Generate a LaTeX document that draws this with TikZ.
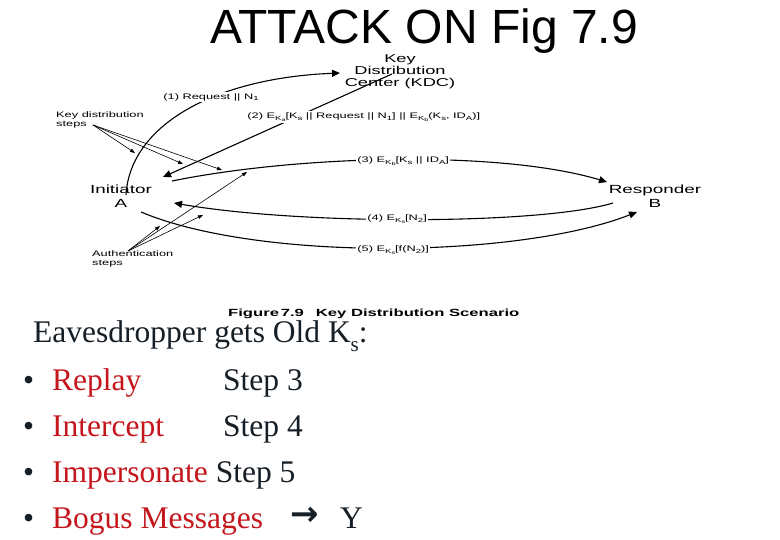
\documentclass[tikz,border=0pt]{standalone}
\usepackage{fontspec}
\usepackage{graphicx}
\usetikzlibrary{arrows.meta}
\setmainfont{Liberation Serif}
\newfontfamily\figfont[FakeStretch=1.6]{Liberation Sans}
\newfontfamily\titlefont{Liberation Sans}
\newfontfamily\symfont{DejaVu Sans}
\newcommand\lsub[1]{\raisebox{-0.4ex}{\scalebox{0.75}{#1}}}
\definecolor{bred}{RGB}{196,22,28}
\definecolor{dtext}{RGB}{22,30,38}
\begin{document}
\begin{tikzpicture}[x=1pt,y=-1pt,
  lbl/.style={font=\figfont\fontsize{8}{9}\selectfont, inner sep=1.2pt, fill=white, anchor=west},
  ent/.style={font=\figfont\fontsize{11.8}{14}\selectfont, align=center, inner sep=0pt},
  note/.style={font=\figfont\fontsize{8}{8.5}\selectfont, align=left, inner sep=0pt, anchor=north west},
  main/.style={line width=1.1pt, -{Triangle[length=8pt,width=7pt]}},
  ptr/.style={line width=0.6pt, -{Triangle[length=5pt,width=3.6pt]}},
  big/.style={font=\fontsize{31.5}{36}\selectfont, anchor=base west, inner sep=0pt, text=dtext},
  bul/.style={font=\fontsize{31.5}{36}\selectfont, anchor=base west, inner sep=0pt, text=dtext}
]
\useasboundingbox[fill=white] (0,0) rectangle (780,540);

% title
\node[font=\titlefont\fontsize{48}{52}\selectfont, anchor=base, inner sep=0pt] (title) at (424,44) {ATTACK ON Fig 7.9};

% entities
\node[ent, font=\figfont\fontsize{11.4}{12}\selectfont] (kdc) at (400,72) {Key\\Distribution\\Center (KDC)};
\node[ent] (ini) at (121,196) {Initiator\\A};
\node[ent] (res) at (655,196) {Responder\\B};

% connector end points
\coordinate (c1s) at (126,195);
\coordinate (c1e) at (340,73);
\coordinate (c2s) at (392,74);
\coordinate (c2e) at (163,177);
\coordinate (c3s) at (172,181);
\coordinate (c3e) at (607,182);
\coordinate (c4s) at (613,203);
\coordinate (c4e) at (174,203);
\coordinate (c5s) at (141,212);
\coordinate (c5e) at (637,212);

% arrows
\draw[main] (c1s) .. controls (130,125) and (215,78) .. (c1e);
\draw[main] (c2s) -- (c2e);
\draw[main] (c3s) .. controls (300,155) and (500,150) .. (c3e);
\draw[main] (c4s) .. controls (540,225) and (300,225) .. (c4e);
\draw[main] (c5s) .. controls (260,262) and (520,258) .. (c5e);

% labels
\node[lbl] (l1) at (162,97) {(1) Request {||} N\lsub{1}};
\node[lbl] (l2) at (246,117) {(2) E\lsub{K\lsub{a}}[K\lsub{s} {||} Request {||} N\lsub{1}] {||} E\lsub{K\lsub{b}}(K\lsub{s}, ID\lsub{A})]};
\node[lbl] (l3) at (356,161) {(3) E\lsub{K\lsub{b}}[K\lsub{s} {||} ID\lsub{A}]};
\node[lbl] (l4) at (366,219) {(4) E\lsub{K\lsub{s}}[N\lsub{2}]};
\node[lbl] (l5) at (356,250) {(5) E\lsub{K\lsub{s}}[f(N\lsub{2})]};

% notes
\node[note] (kds) at (56,112) {Key distribution\\steps};
\node[note] (aus) at (92,251) {Authentication\\steps};
\coordinate (kdo) at (93,125);
\coordinate (k1) at (135,153);
\coordinate (k2) at (183,164);
\coordinate (k3) at (222,170);
\draw[ptr] (kdo) -- (k1);
\draw[ptr] (kdo) -- (k2);
\draw[ptr] (kdo) -- (k3);
\coordinate (auo) at (128,251);
\coordinate (a1) at (160,226);
\coordinate (a2) at (203,215);
\coordinate (a3) at (247,172);
\draw[ptr] (auo) -- (a1);
\draw[ptr] (auo) -- (a2);
\draw[ptr] (auo) -- (a3);

% caption
\node[font=\figfont\bfseries\fontsize{10.4}{10}\selectfont, anchor=west, inner sep=0pt] (cap) at (228,314) {Figure\,7.9\hspace{12pt}Key Distribution Scenario};

% bottom text
\node[big] (eav) at (33,343) {Eavesdropper gets Old K\raisebox{-0.28em}{\fontsize{21}{21}\selectfont s}:};
\node[bul] (b1) at (23,390) {\textbullet};
\node[bul, text=bred] (t1) at (52,390) {Replay};
\node[bul] (s1) at (223,390) {Step 3};
\node[bul] (b2) at (23,436) {\textbullet};
\node[bul, text=bred] (t2) at (52,436) {Intercept};
\node[bul] (s2) at (223,436) {Step 4};
\node[bul] (b3) at (23,482) {\textbullet};
\node[bul] (t3) at (52,482) {\textcolor{bred}{Impersonate} Step 5};
\node[bul] (b4) at (23,528) {\textbullet};
\node[bul, text=bred] (t4) at (52,528) {Bogus Messages};
\node[font=\symfont\bfseries\fontsize{34}{34}\selectfont, anchor=center, inner sep=0pt, text=dtext] (arr) at (305,516) {→};
\node[bul] (y) at (340,528) {Y};
\end{tikzpicture}
\end{document}
